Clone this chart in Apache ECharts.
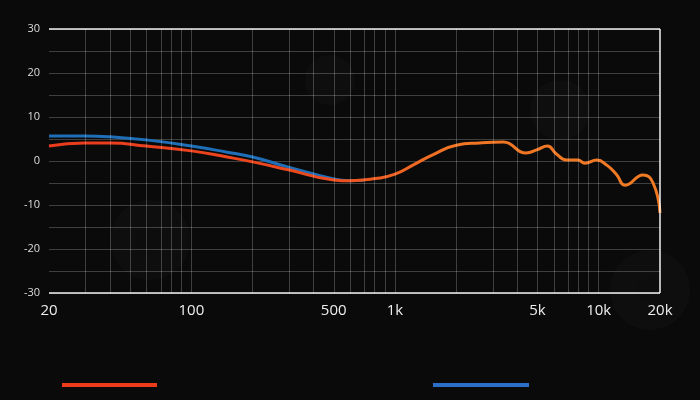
<!DOCTYPE html>
<html><head><meta charset="utf-8">
<script src="https://cdn.jsdelivr.net/npm/echarts@6/dist/echarts.min.js"></script>
<style>html,body{margin:0;background:#0b0b0b}#c{width:700px;height:400px}</style>
</head><body><div id="c"></div>
<script>
// frequency response, Hz / dB
const redFreq = [20,30,40,60,100,150,200,300,500,600,800,1000,1250,1530,2000,2600,3400,4400,5000,5600,6200,7000,7900,8550,9800,11000,12200,13500,16500,18500,20000];
const redDb   = [3.4,4.1,4.1,3.4,2.3,0.9,-0.2,-2,-4.3,-4.5,-4,-3,-0.7,1.4,3.6,4.1,4.3,1.8,2.6,3.4,1.6,0.2,0.2,-0.5,0.2,-1,-3,-5.5,-3.2,-5,-11.8];
const blueFreq = [20,30,40,60,100,150,200,300,500,600,700];
const blueDb   = [5.7,5.7,5.5,4.8,3.4,2,0.9,-1.4,-4.1,-4.5,-4.4];
const gridFreqs = [30,40,50,60,70,80,90,100,200,300,400,500,600,700,800,900,1000,2000,3000,4000,5000,6000,7000,8000,9000,10000];
const labelFreqs = [20,100,500,1000,5000,10000,20000];
const labelText = ['20','100','500','1k','5k','10k','20k'];

const lg = Math.log10;
const smoke = (cx, cy, r) => ({type:'circle', shape:{cx, cy, r}, silent:true, z:-10,
  style:{fill:'rgba(90,90,90,0.05)', shadowBlur:120, shadowColor:'rgba(110,110,110,0.35)'}});
const chart = echarts.init(document.getElementById('c'));
chart.setOption({
  backgroundColor: '#0a0a0a',
  animation: false,
  graphic: [
    smoke(150,240,40), smoke(560,110,30), smoke(650,290,40), smoke(330,80,25),
    {type:'rect', shape:{x:62,y:383,width:95,height:4}, style:{fill:'#ec3c1c'}},
    {type:'rect', shape:{x:433,y:383,width:96,height:4}, style:{fill:'#2a70c8'}}
  ],
  grid: {left:49, right:40, top:29, bottom:107},
  xAxis: {
    type:'value', min:lg(20), max:lg(20000),
    axisLine:{show:false}, axisTick:{show:false}, splitLine:{show:false},
    axisLabel:{customValues: labelFreqs.map(lg), color:'#eee', fontSize:15, fontFamily:'Open Sans', margin:10,
      formatter: v => labelText[labelFreqs.findIndex(f => Math.abs(lg(f)-v) < 1e-6)] ?? ''}
  },
  yAxis: {
    type:'value', min:-30, max:30, interval:5,
    axisLine:{show:false}, axisTick:{show:false},
    splitLine:{lineStyle:{color:'rgba(255,255,255,0.22)', width:1}},
    axisLabel:{color:'#ddd', fontSize:11, fontFamily:'Open Sans', margin:9,
      formatter: v => v % 10 === 0 ? String(v) : ''}
  },
  series: [
    {type:'line', data:[], silent:true,
      markLine:{symbol:'none', silent:true, label:{show:false},
        lineStyle:{color:'rgba(255,255,255,0.22)', width:1, type:'solid'},
        data: gridFreqs.map(f => ({xAxis: lg(f)}))}},
    {type:'line', data:[], silent:true,
      markLine:{symbol:'none', silent:true, label:{show:false},
        lineStyle:{color:'rgba(255,255,255,0.7)', width:2, type:'solid'},
        data:[{xAxis:lg(20)},{xAxis:lg(20000)},{yAxis:30},{yAxis:-30}]}},
    {type:'line', smooth:0.5, symbol:'none', z:3,
      lineStyle:{color:'#1f6fb8', width:3},
      data: blueFreq.map((f,i) => [lg(f), blueDb[i]])},
    {type:'line', smooth:0.5, symbol:'none', z:4,
      lineStyle:{width:3, color:{type:'linear', x:0, y:0, x2:1, y2:0,
        colorStops:[{offset:0,color:'#ea3a1e'},{offset:0.45,color:'#ec4a1e'},{offset:0.65,color:'#f07424'},{offset:1,color:'#f07a24'}]}},
      data: redFreq.map((f,i) => [lg(f), redDb[i]])}
  ]
});
</script></body></html>
